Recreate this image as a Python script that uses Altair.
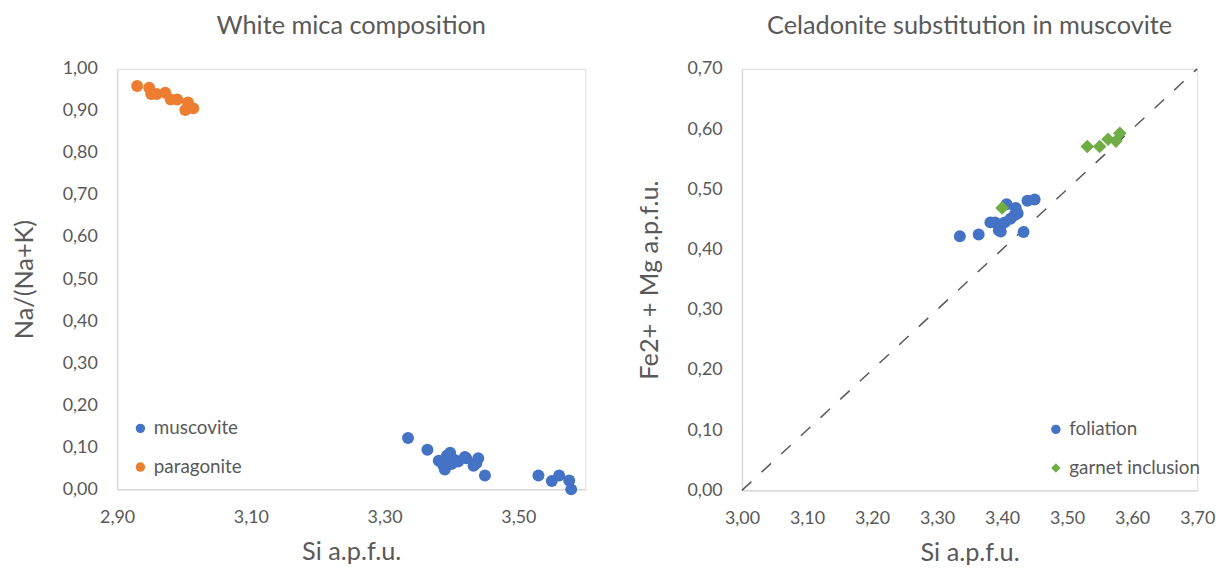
import altair as alt
import pandas as pd

# ---- Left chart data: White mica composition ----
musc_si = [3.335, 3.364, 3.381, 3.388, 3.390, 3.393, 3.398, 3.400, 3.405, 3.410,
           3.420, 3.422, 3.433, 3.437, 3.440, 3.450, 3.530, 3.550, 3.561, 3.576, 3.579]
musc_na = [0.122, 0.094, 0.068, 0.057, 0.047, 0.080, 0.087, 0.060, 0.070, 0.066,
           0.077, 0.074, 0.056, 0.062, 0.074, 0.033, 0.033, 0.020, 0.033, 0.021, 0.000]
para_si = [2.930, 2.948, 2.951, 2.959, 2.972, 2.980, 2.990, 3.006, 3.002, 3.014]
para_na = [0.959, 0.955, 0.940, 0.940, 0.943, 0.927, 0.927, 0.920, 0.902, 0.906]

# ---- Right chart data: Celadonite substitution ----
fol_si = [3.335, 3.364, 3.382, 3.389, 3.395, 3.398, 3.398, 3.404, 3.407, 3.413,
          3.419, 3.421, 3.424, 3.433, 3.439, 3.450]
fol_fm = [0.422, 0.425, 0.445, 0.445, 0.432, 0.439, 0.430, 0.445, 0.475, 0.451,
          0.457, 0.469, 0.460, 0.429, 0.481, 0.483]
gar_si = [3.400, 3.531, 3.550, 3.563, 3.575, 3.581]
gar_fm = [0.469, 0.571, 0.571, 0.583, 0.580, 0.593]
ref_si = [3.00, 3.70]
ref_fm = [0.00, 0.70]

left_x_ticks = [2.9, 3.1, 3.3, 3.5]
left_y_ticks = [0.0, 0.1, 0.2, 0.3, 0.4, 0.5, 0.6, 0.7, 0.8, 0.9, 1.0]
right_x_ticks = [3.0, 3.1, 3.2, 3.3, 3.4, 3.5, 3.6, 3.7]
right_y_ticks = [0.0, 0.1, 0.2, 0.3, 0.4, 0.5, 0.6, 0.7]

BLUE = "#4472C4"
ORANGE = "#ED7D31"
GREEN = "#70AD47"
TXT = "#595959"
FONT = "Lato"
LBL = "replace(format(datum.value, '.2f'), '.', ',')"

left_df = pd.DataFrame({
    "si": musc_si + para_si,
    "na": musc_na + para_na,
    "mineral": ["muscovite"] * len(musc_si) + ["paragonite"] * len(para_si),
})
fol_df = pd.DataFrame({"si": fol_si, "fm": fol_fm, "series": ["foliation"] * len(fol_si)})
gar_df = pd.DataFrame({"si": gar_si, "fm": gar_fm, "series": ["garnet inclusion"] * len(gar_si)})
ref_df = pd.DataFrame({"si": ref_si, "fm": ref_fm})


def xaxis(values):
    return alt.Axis(values=values, labelExpr=LBL, grid=False, ticks=False, tickSize=0,
                    labelPadding=19, labelFlush=False, domainColor="#D9D9D9", domainWidth=1.5,
                    labelColor=TXT, labelFont=FONT, labelFontSize=18,
                    titleColor=TXT, titleFont=FONT, titleFontSize=25.5, titleFontWeight="normal",
                    titleY=63, titleBaseline="middle")


def yaxis(values, h):
    return alt.Axis(values=values, labelExpr=LBL, grid=False, ticks=False, tickSize=0,
                    labelPadding=20, labelFlush=False, domainColor="#D9D9D9", domainWidth=1.5,
                    labelColor=TXT, labelFont=FONT, labelFontSize=18,
                    titleColor=TXT, titleFont=FONT, titleFontSize=25.5, titleFontWeight="normal",
                    titleX=-93, titleY=h / 2, titleBaseline="middle", titleAngle=-90,
                    titleAlign="center")


LW, LH = 472, 424
RW, RH = 459, 425

left = alt.Chart(left_df).mark_circle(size=145, opacity=1).encode(
    x=alt.X("si:Q", title="Si a.p.f.u.", scale=alt.Scale(domain=[2.9, 3.6], nice=False, zero=False),
            axis=xaxis(left_x_ticks)),
    y=alt.Y("na:Q", title="Na/(Na+K)", scale=alt.Scale(domain=[0, 1], nice=False),
            axis=yaxis(left_y_ticks, LH)),
    color=alt.Color("mineral:N", scale=alt.Scale(domain=["muscovite", "paragonite"], range=[BLUE, ORANGE]),
                    legend=alt.Legend(title=None, orient="none", legendX=14, legendY=353,
                                      symbolSize=90, symbolType="circle", labelFontSize=19,
                                      labelFont=FONT, labelColor=TXT, rowPadding=19,
                                      labelOffset=4, padding=0)),
).properties(width=LW, height=LH,
             title=alt.TitleParams("White mica composition", font=FONT, fontSize=25.5,
                                   fontWeight="normal", color=TXT, anchor="middle", offset=21))

shape_scale = alt.Scale(domain=["foliation", "garnet inclusion"], range=["circle", "diamond"])
color_scale = alt.Scale(domain=["foliation", "garnet inclusion"], range=[BLUE, GREEN])
rleg = alt.Legend(title=None, orient="none", legendX=307, legendY=354,
                  symbolSize=90, labelFontSize=19, labelFont=FONT, labelColor=TXT,
                  rowPadding=19, labelOffset=4, padding=0, symbolStrokeWidth=0)

rx = alt.X("si:Q", title="Si a.p.f.u.", scale=alt.Scale(domain=[3.0, 3.7], nice=False, zero=False),
           axis=xaxis(right_x_ticks))
ry = alt.Y("fm:Q", title="Fe2+ + Mg a.p.f.u.", scale=alt.Scale(domain=[0, 0.7], nice=False),
           axis=yaxis(right_y_ticks, RH))

line = alt.Chart(ref_df).mark_line(color=TXT, strokeWidth=1.5, strokeDash=[13, 14]).encode(x=rx, y=ry)

fol = alt.Chart(fol_df).mark_point(filled=True, size=145, opacity=1).encode(
    x=rx, y=ry,
    color=alt.Color("series:N", scale=color_scale, legend=rleg),
    shape=alt.Shape("series:N", scale=shape_scale, legend=rleg),
)
gar = alt.Chart(gar_df).mark_point(filled=True, size=190, opacity=1).encode(
    x=rx, y=ry,
    color=alt.Color("series:N", scale=color_scale, legend=rleg),
    shape=alt.Shape("series:N", scale=shape_scale, legend=rleg),
)

right = alt.layer(line, fol, gar).properties(
    width=RW, height=RH,
    title=alt.TitleParams("Celadonite substitution in muscovite", font=FONT, fontSize=25.5,
                          fontWeight="normal", color=TXT, anchor="middle", offset=21))

chart = alt.hconcat(left, right, spacing=51).resolve_scale(
    color="independent", shape="independent").resolve_legend(
    color="independent", shape="independent").configure_view(stroke=None).configure(
    background="white", padding={"left": 4, "top": 3, "right": 5, "bottom": 5})

chart.save("out.html", embed_options={"renderer": "svg", "actions": False})
